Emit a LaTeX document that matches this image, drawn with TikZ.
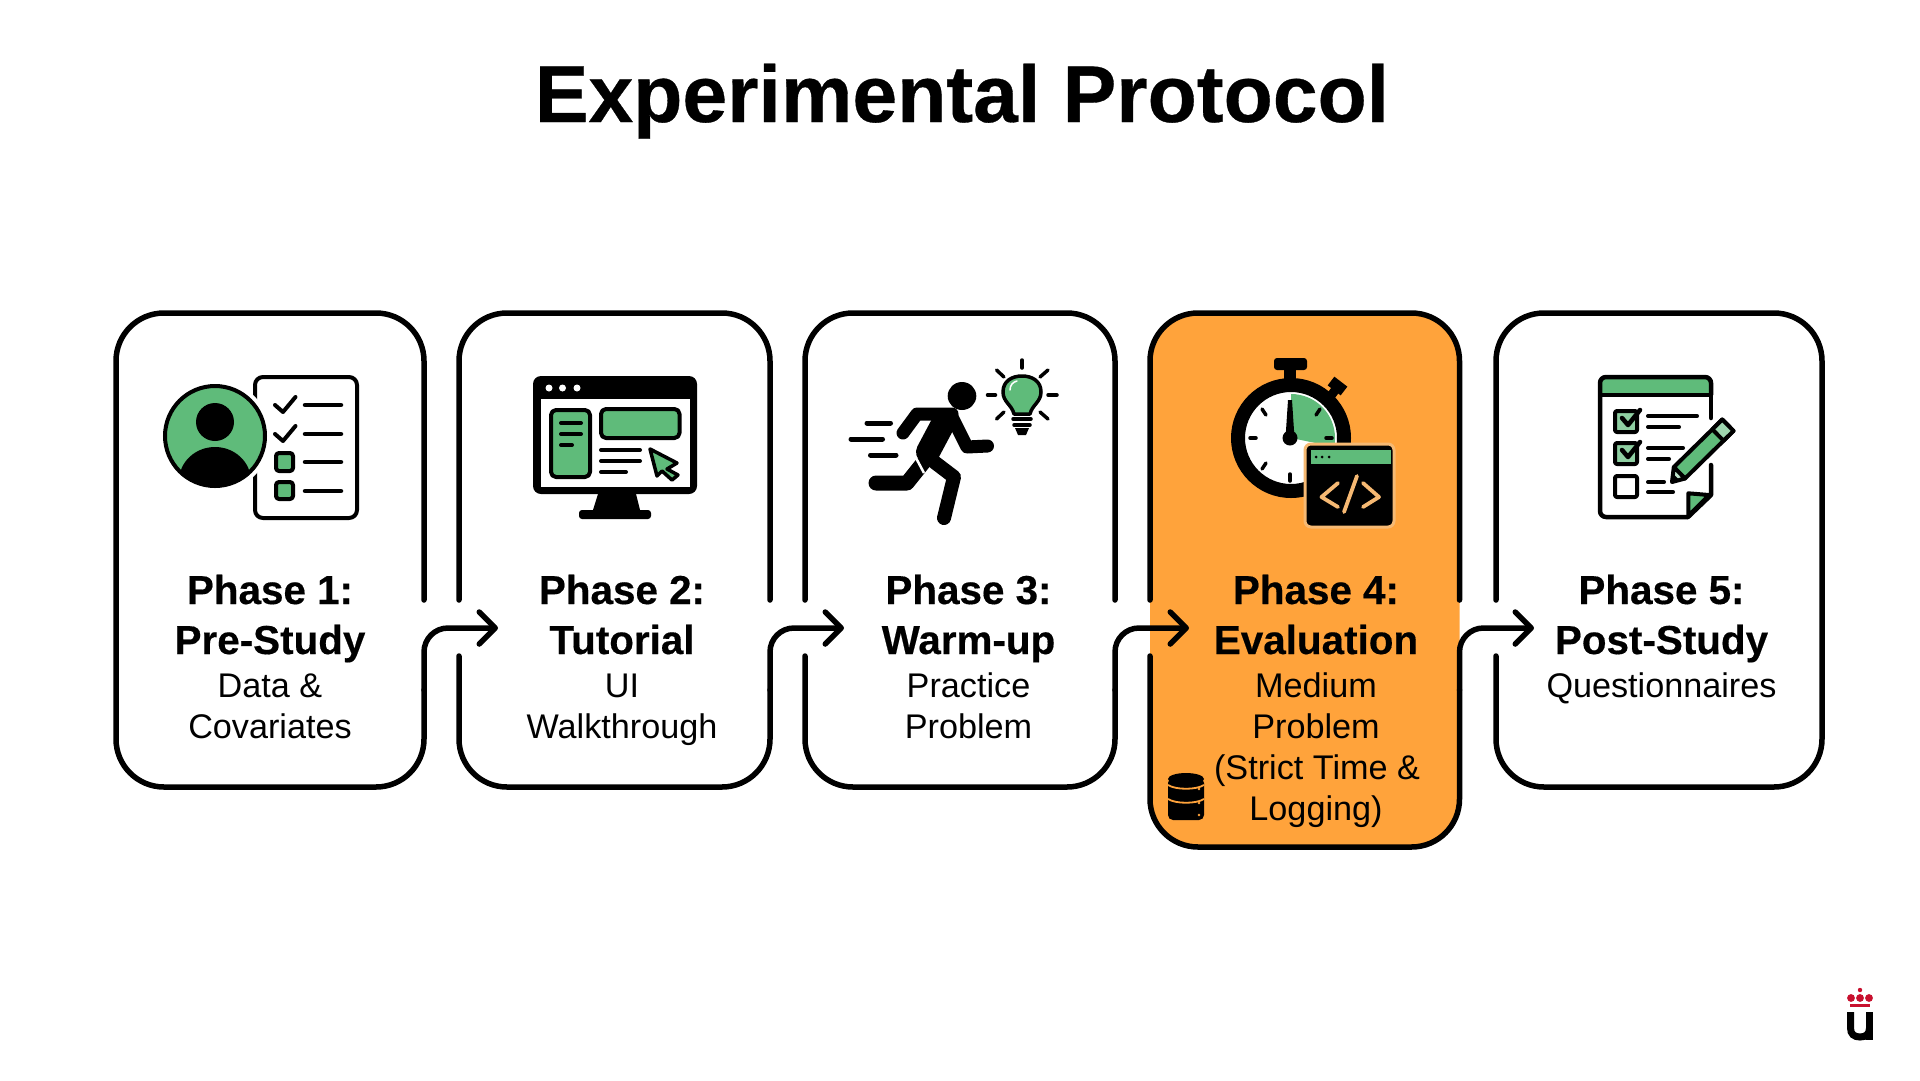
\documentclass[tikz,border=0pt]{standalone}
\usepackage{fontspec}
\setmainfont{Liberation Sans}
\newfontfamily\hf[BoldFeatures={FakeBold=0.4}]{Liberation Sans}
\usetikzlibrary{arrows.meta}
\definecolor{grn}{HTML}{5FBB7A}
\definecolor{org}{HTML}{FFA33B}
\definecolor{lorg}{HTML}{F6B973}
\definecolor{crest}{HTML}{C8102E}
\tikzset{
  x=1pt,y=-1pt,
  boxshape/.style={rectangle,inner sep=0pt,outer sep=0pt,rounded corners=48pt},
  outline/.style={line width=5.5pt,line cap=round,rounded corners=48pt},
  conn/.style={line width=5.5pt,line cap=round,rounded corners=24pt,-{Straight Barb[length=16pt,width=32pt,line width=5.5pt,round]}},
  title/.style={anchor=base,inner sep=0pt,font=\hf\fontsize{80.5pt}{84pt}\selectfont\bfseries},
  head/.style={anchor=base,inner sep=0pt,font=\hf\fontsize{40.4pt}{40pt}\selectfont\bfseries},
  body/.style={anchor=base,inner sep=0pt,font=\fontsize{34.2pt}{34pt}\selectfont},
  ln/.style={line width=4.5pt,line cap=round},
  ic/.style={line width=4pt,line join=round,rounded corners=3pt},
}
\begin{document}
\begin{tikzpicture}
\fill[white] (0,0) rectangle (1920,1080);
\useasboundingbox (0,0) rectangle (1920,1080);

\node[title] (ttl) at (962,122) {Experimental Protocol};

% boxes
\node[boxshape,minimum width=308pt,minimum height=474pt] (box1) at (270,550) {};
\node[boxshape,minimum width=311pt,minimum height=474pt] (box2) at (614.5,550) {};
\node[boxshape,minimum width=310pt,minimum height=474pt] (box3) at (960,550) {};
\node[boxshape,fill=org,minimum width=309.5pt,minimum height=534pt] (box4) at (1304.75,580) {};
\node[boxshape,minimum width=326pt,minimum height=474pt] (box5) at (1659,550) {};

\coordinate (gt) at (0,600);
\coordinate (gb) at (0,656);
\coordinate (ay) at (0,628);
\coordinate (ly) at (0,690);

% outlines
\draw[outline] (box1.east |- gt) -- (box1.north east) -- (box1.north west) -- (box1.south west) -- (box1.south east) -- (box1.east |- ly);
\foreach \b in {box2,box3,box4}{
  \draw[outline] (\b.west |- gt) -- (\b.north west) -- (\b.north east) -- (\b.east |- gt);
  \draw[outline] (\b.west |- gb) -- (\b.south west) -- (\b.south east) -- (\b.east |- ly);
}
\draw[outline] (box5.west |- gt) -- (box5.north west) -- (box5.north east) -- (box5.south east) -- (box5.south west) -- (box5.west |- gb);

% connectors
\coordinate (tip1) at ([xshift=39pt]box2.west |- ay);
\coordinate (tip2) at ([xshift=39pt]box3.west |- ay);
\coordinate (tip3) at ([xshift=39pt]box4.west |- ay);
\coordinate (tip4) at ([xshift=38pt]box5.west |- ay);
\draw[conn] (box1.east |- ly) -- (box1.east |- ay) -- (tip1);
\draw[conn] (box2.east |- ly) -- (box2.east |- ay) -- (tip2);
\draw[conn] (box3.east |- ly) -- (box3.east |- ay) -- (tip3);
\draw[conn] (box4.east |- ly) -- (box4.east |- ay) -- (tip4);

% labels
\node[head] (p1a) at (270,604) {Phase 1:};
\node[head] (p1b) at (270,654) {Pre-Study};
\node[body] (p1c) at (270,697) {Data \&};
\node[body] (p1d) at (270,738) {Covariates};
\node[head] (p2a) at (622,604) {Phase 2:};
\node[head] (p2b) at (622,654) {Tutorial};
\node[body] (p2c) at (622,697) {UI};
\node[body] (p2d) at (622,738) {Walkthrough};
\node[head] (p3a) at (968.5,604) {Phase 3:};
\node[head] (p3b) at (968.5,654) {Warm-up};
\node[body] (p3c) at (968.5,697) {Practice};
\node[body] (p3d) at (968.5,738) {Problem};
\node[head] (p4a) at (1316,604) {Phase 4:};
\node[head] (p4b) at (1316,654) {Evaluation};
\node[body] (p4c) at (1316,697) {Medium};
\node[body] (p4d) at (1316,738) {Problem};
\node[body] (p4e) at (1317,779) {(Strict Time \&};
\node[body] (p4f) at (1316,820) {Logging)};
\node[head] (p5a) at (1661.5,604) {Phase 5:};
\node[head] (p5b) at (1661.5,654) {Post-Study};
\node[body] (p5c) at (1661.5,697) {Questionnaires};

% icon 1: person and checklist
\draw[ic,rounded corners=8pt,fill=white] (255,377) rectangle (357,518);
\fill[white] (215,436) circle[radius=56];
\draw[fill=grn,line width=4pt] (215,436) circle[radius=50];
\begin{scope}
  \clip (215,436) circle[radius=50];
  \fill (215,481) ellipse[x radius=36,y radius=34];
\end{scope}
\fill (215,422) circle[radius=19];
\draw[line width=4pt,line cap=round,line join=round] (275,405) -- (283,412) -- (295.5,397);
\draw[line width=4pt,line cap=round,line join=round] (275,434) -- (283,441) -- (295.5,426);
\foreach \yy in {405,434,462,491}{\draw[ln] (305,\yy) -- (341,\yy);}
\draw[ic,fill=grn] (276,453) rectangle (293,471);
\draw[ic,fill=grn] (276,482) rectangle (293,499);

% icon 2: monitor
\fill[rounded corners=8pt] (533,376) rectangle (697,494);
\fill[white] (541,399) rectangle (690,487);
\foreach \xx in {549,562.5,577}{\fill[white] (\xx,388) circle[radius=3.5];}
\draw[ic,rounded corners=5pt,fill=grn] (551,410) rectangle (590,477);
\draw[ln,line width=4pt] (561,423) -- (581,423);
\draw[ln,line width=4pt] (561,434) -- (581,434);
\draw[ln,line width=4pt] (561,445) -- (572,445);
\draw[ic,rounded corners=5pt,fill=grn] (601,409) rectangle (679.5,438);
\draw[ln,line width=4pt] (601,450) -- (640,450);
\draw[ln,line width=4pt] (601,461) -- (640,461);
\draw[ln,line width=4pt] (601,472) -- (626,472);
\draw[fill=grn,line width=3.5pt,line join=round] (650,449) -- (677,463) -- (667,469) -- (678,475) -- (672,480) -- (662,471) -- (657,476) -- cycle;
\fill (598,494) -- (636,494) -- (640,510) -- (593,510) -- cycle;
\fill[rounded corners=3pt] (579,510) rectangle (651,519);

% icon 3: runner and bulb
\fill (962,396) ellipse[x radius=14.3,y radius=14];
\draw[line width=13pt,line cap=round,line join=round] (903,433) -- (917,414) -- (952,414);
\draw[line width=13pt,line cap=round,line join=round] (952,417) -- (967,447) -- (987.5,446);
\draw[line width=24pt,line cap=round,line join=round] (945,420) -- (928,452);
\draw[line width=15pt,line cap=round,line join=round] (923,463) -- (907,483) -- (876,483);
\draw[white,line width=2.5pt] (916,458) -- (924,473);
\draw[line width=14pt,line cap=round,line join=round] (929,458) -- (954,477) -- (944,518);
\draw[ln,line width=5pt] (867,423) -- (890.5,423);
\draw[ln,line width=5pt] (851,439) -- (882.5,439);
\draw[ln,line width=5pt] (870.5,455) -- (896,455);
\draw[fill=grn,line width=3.5pt,line join=round] (1014,414) .. controls (1012,405) and (1003,402) .. (1003,392) .. controls (1003,381) and (1012,376) .. (1022,376) .. controls (1032,376) and (1041,381) .. (1041,392) .. controls (1041,402) and (1032,405) .. (1030,414) -- cycle;
\draw[white,line width=1.5pt,line cap=round] (1010,390) .. controls (1010,385) and (1013,382) .. (1017,381);
\draw[line width=3.5pt,line cap=round] (1013,419) -- (1031,419);
\draw[line width=3.5pt,line cap=round] (1014,425) -- (1030,425);
\fill (1015,428) -- (1029,428) -- (1026,435) -- (1018,435) -- cycle;
\foreach \sa/\sb/\ea/\eb in {1022/360/1022/368,996.5/370/1004/377,1048/370/1040/377,987.5/395/995.5/395,1048/395/1057/395,996.5/419/1004/412,1048/419/1040/412}{
  \draw[line width=3.5pt,line cap=round] (\sa,\sb) -- (\ea,\eb);}

% icon 4: stopwatch with code window
\draw[line width=12pt] (1290,368) -- (1290,382);
\fill[rounded corners=3pt] (1274,358) rectangle (1307,370);
\draw[line width=9pt] (1330,397) -- (1336,389);
\draw[line width=11pt] (1331,381) -- (1344,391);
\fill[white] (1291,438) circle[radius=50];
\begin{scope}
  \clip (1291,438) circle[radius=44];
  \fill[grn] (1291,438) -- (1291,380) -- (1360,380) -- (1360,452) -- cycle;
\end{scope}
\draw[line width=14pt] (1291,438) circle[radius=53];
\foreach \sa/\sb/\ea/\eb in {1262/409/1266/415,1320/409/1316/415,1250/438/1256/438,1332/438/1326/438,1262/469/1266/463,1290/474/1290/481}{
  \draw[line width=3.5pt,line cap=round] (\sa,\sb) -- (\ea,\eb);}
\fill (1288,400) -- (1292,400) -- (1294.5,438) -- (1285.5,438) -- cycle;
\fill (1290,438) circle[radius=7.5];
\draw[draw=lorg,fill=black,line width=3pt,rounded corners=6pt] (1305,444) rectangle (1394,527);
\fill[grn] (1311,450) rectangle (1390.5,464);
\foreach \xx in {1316,1322,1329}{\fill (\xx,457) circle[radius=1.5];}
\draw[lorg,line width=3.8pt,line cap=round,line join=round] (1338,483) -- (1321.5,497) -- (1338,507);
\draw[lorg,line width=3.8pt,line cap=round,line join=round] (1363,483) -- (1379,497) -- (1363,507);
\draw[lorg,line width=3.8pt,line cap=round] (1357,476) -- (1344,512);

% database icon
\fill[rounded corners=5pt] (1168,778) rectangle (1204,820);
\fill (1186,779) ellipse[x radius=18,y radius=6];
\draw[org,line width=1.8pt] (1168,785) .. controls (1176,790) and (1196,790) .. (1204,785);
\draw[org,line width=1.8pt] (1168,799) .. controls (1176,804) and (1196,804) .. (1204,799);
\foreach \yy in {789,803,815}{\fill[org] (1199,\yy) circle[radius=1.3];}

% icon 5: questionnaire
\fill[grn] (1600,377) rectangle (1711,395);
\draw[line width=4.5pt,line join=round,rounded corners=6pt] (1711,395) -- (1711,377) -- (1600,377) -- (1600,517) -- (1688,517);
\draw[line width=4.5pt,line cap=round,line join=round] (1688,517) -- (1711,495) -- (1711,465);
\draw[line width=4.5pt,line cap=round] (1711,395) -- (1711,418);
\draw[line width=4.5pt] (1600,395) -- (1711,395);
\draw[fill=grn,line width=4pt,line join=round] (1688.3,493.3) -- (1709,495) -- (1688.3,516) -- cycle;
\draw[ic,fill=grn!70!white,rounded corners=2pt] (1615,411) rectangle (1637,432);
\draw[ic,fill=grn!70!white,rounded corners=2pt] (1615,443) rectangle (1637,464);
\draw[ic,fill=white,rounded corners=2pt] (1615,476) rectangle (1637,497);
\draw[line width=4.5pt,line cap=round,line join=round] (1622,418) -- (1628,425) -- (1640,410);
\draw[line width=4.5pt,line cap=round,line join=round] (1622,450) -- (1628,457) -- (1640,442);
\draw[ln,line width=4pt] (1648,416) -- (1697,416);
\draw[ln,line width=4pt] (1648,427) -- (1679,427);
\draw[ln,line width=4pt] (1648,448) -- (1683,448);
\draw[ln,line width=4pt] (1648,459) -- (1669,459);
\draw[ln,line width=4pt] (1648,482) -- (1664,482);
\draw[ln,line width=4pt] (1648,492) -- (1673,492);
\begin{scope}[xshift=-4pt,yshift=-2pt]
\draw[fill=grn,line width=4pt,line join=round] (1689,476.5) -- (1737.5,428.9) -- (1726.3,417.5) -- (1677.8,465.1) -- cycle;
\draw[fill=grn!60!white,line width=4pt,line join=round] (1737.5,428.9) -- (1726.3,417.5) -- (1716.3,427.3) -- (1727.5,438.7) -- cycle;
\end{scope}
\draw[fill=grn!40!white,line width=4pt,line join=round] (1672,482) -- (1685,478.5) -- (1673.8,467.1) -- cycle;
\fill (1672,482) -- (1679,479.7) -- (1674.3,475) -- cycle;

% logo
\fill[crest] (1860,990) circle[radius=2.2];
\foreach \xx in {1851,1860,1869}{\fill[crest] (\xx,998) circle[radius=3.9];}
\fill[crest] (1850,1003.5) rectangle (1869.5,1006.8);
\draw[line width=7pt] (1850.5,1012) -- (1850.5,1028) .. controls (1850.5,1034) and (1854,1037) .. (1860,1037) .. controls (1866,1037) and (1869.5,1034) .. (1869.5,1028);
\draw[line width=7pt] (1869.5,1012) -- (1869.5,1040);
\end{tikzpicture}
\end{document}
